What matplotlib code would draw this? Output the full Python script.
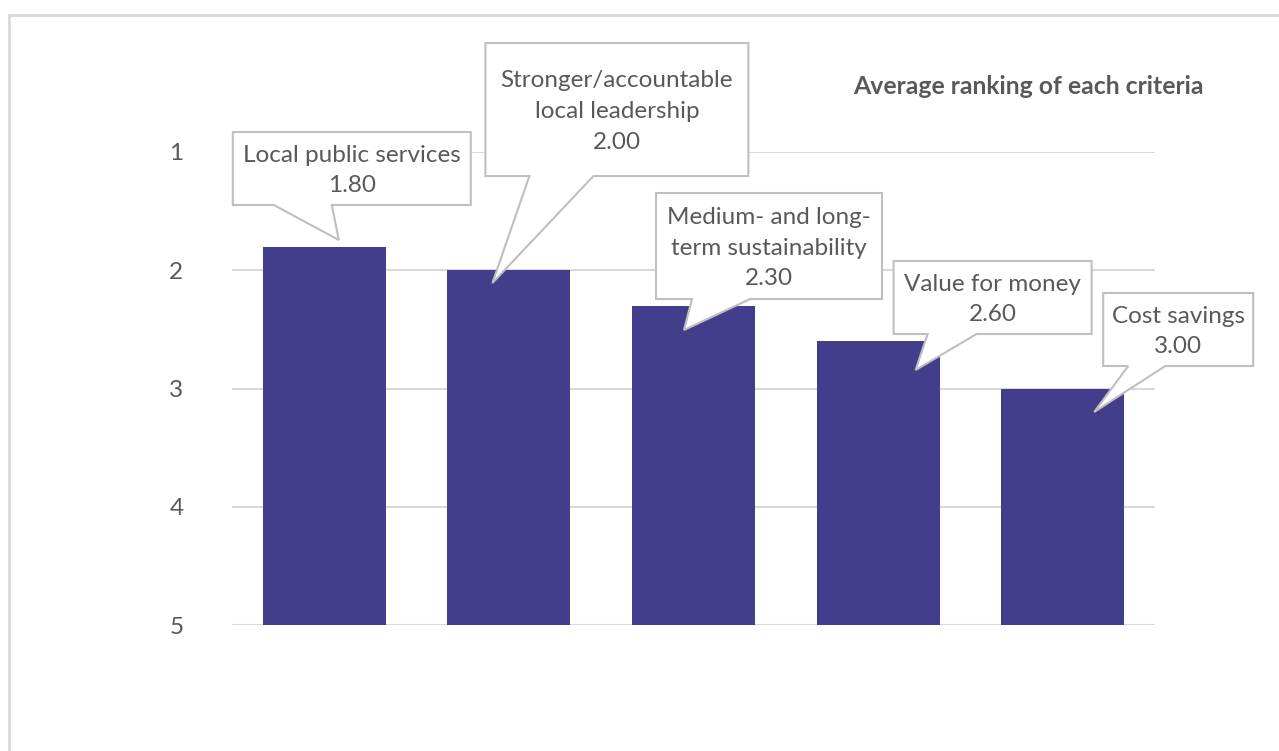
import numpy as np
import matplotlib.pyplot as plt
import matplotlib.transforms as mtransforms
from matplotlib.patches import Polygon, Rectangle

plt.rcParams['font.family'] = ['Lato', 'DejaVu Sans']

criteria = ['Local public services', 'Stronger/accountable\nlocal leadership',
            'Medium- and long-\nterm sustainability', 'Value for money', 'Cost savings']
avg_rank = [1.80, 2.00, 2.30, 2.60, 3.00]
rank_ticks = [1, 2, 3, 4, 5]
title = 'Average ranking of each criteria'

bar_color = '#433E8C'
text_color = '#595959'
grid_color = '#D9D9D9'
font_size = 17.5

# callout layout, pixel offsets from the top centre of each bar (y pointing down)
# tip (dx, dy), box (left, right, top, bottom), pointer base (left, right)
callouts = [
    ((14.5, -6.6), (-91.5, 146.5, -114.6, -41.6), (-50.5, 7.5)),
    ((-16.5, 12.8), (-23.5, 239.5, -227.2, -94.2), (20.5, 84.5)),
    ((-9.5, 24.3), (-37.5, 188.5, -112.7, -6.7), (-1.5, 56.5)),
    ((37.5, 28.8), (15.5, 213.5, -80.2, -7.2), (49.5, 98.5)),
    ((31.5, 23.5), (40.5, 190.5, -95.5, -22.5), (65.5, 102.5)),
]

W, H = 1279, 751
fig = plt.figure(figsize=(W / 100, H / 100), dpi=100)
ax = fig.add_axes([232 / W, 1 - 625 / H, (1155 - 232) / W, (625 - 152) / H])

# chart border
fig.patches.append(Rectangle((9 / W, -0.1), 1.2, 1.1 - 15 / H, transform=fig.transFigure,
                             fill=False, edgecolor=grid_color, linewidth=2))

x = np.arange(len(criteria))
vals = np.array(avg_rank)
ax.bar(x, 5 - vals, bottom=vals, width=0.667, color=bar_color, zorder=2)
ax.set_xlim(-0.5, len(criteria) - 0.5)
ax.set_ylim(5, 1)
ax.set_yticks(rank_ticks)
ax.set_xticks([])
ax.tick_params(axis='y', length=0, pad=35, labelsize=font_size, labelcolor=text_color)
for s in ax.spines.values():
    s.set_visible(False)
ax.yaxis.grid(True, color=grid_color, linewidth=1.5, zorder=0)

fig.text(1204 / W, 1 - 86 / H, title, ha='right', va='center', fontsize=17.8,
         fontweight='bold', color=text_color)

fig.canvas.draw()
for i, (tip, box, base) in enumerate(callouts):
    ax_px, ay_px = ax.transData.transform((x[i], vals[i]))
    tr = mtransforms.Affine2D().scale(1, -1).translate(ax_px, ay_px)
    l, r, t, b = box
    verts = [(l, t), (r, t), (r, b), (base[1], b), tip, (base[0], b), (l, b)]
    fig.patches.append(Polygon(verts, closed=True, transform=tr, facecolor='white',
                               edgecolor='#BFBFBF', linewidth=1.5, zorder=5))
    label = criteria[i] + '\n' + '%.2f' % vals[i]
    fig.text((l + r) / 2, (t + b) / 2 + 2, label, transform=tr, ha='center', va='center',
             multialignment='center', fontsize=font_size, color=text_color,
             linespacing=1.58, zorder=6)

fig.savefig('out.png', dpi=100)
